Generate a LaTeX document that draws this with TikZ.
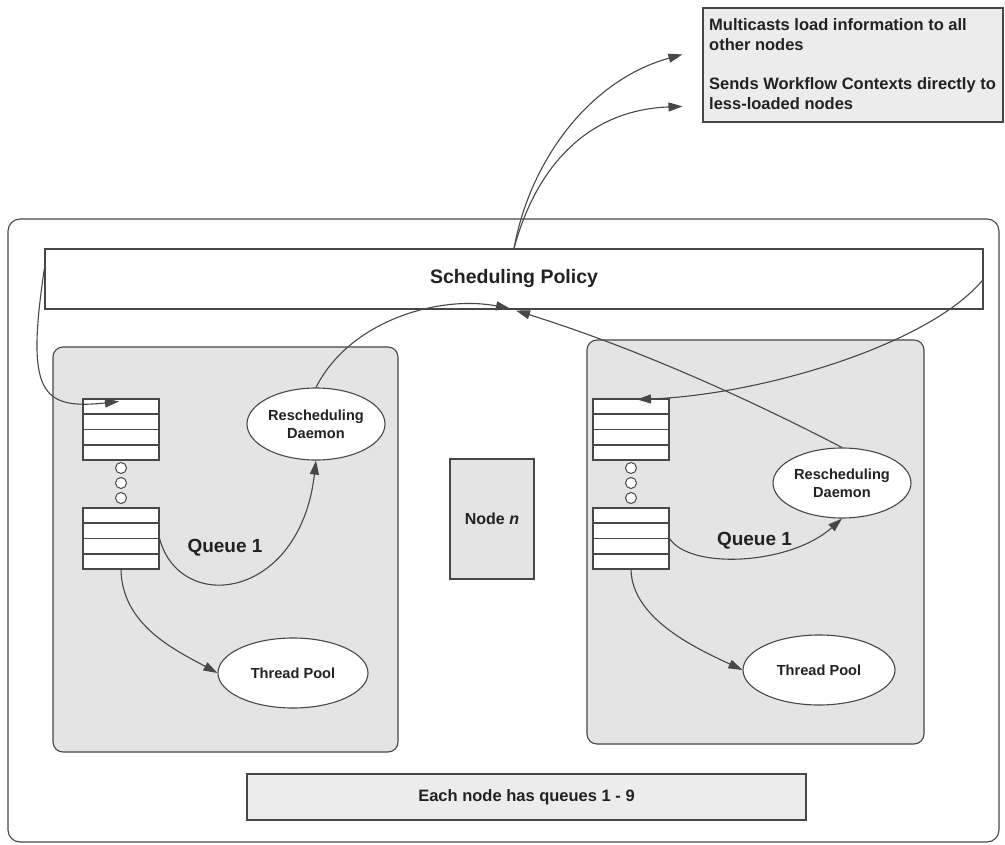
\documentclass[tikz,border=0pt]{standalone}
\usepackage{fontspec}
\setmainfont{Liberation Sans}
\usetikzlibrary{arrows.meta,calc,shapes.geometric}

\definecolor{ink}{HTML}{474747}
\definecolor{txt}{HTML}{222222}
\definecolor{panel}{HTML}{E4E4E4}
\definecolor{note}{HTML}{ECECEC}

\tikzset{
  box/.style={draw=ink, line width=1.1pt, inner sep=0pt},
  outerbox/.style={box, rounded corners=12pt, fill=white},
  nodepanel/.style={box, rounded corners=10pt, fill=panel},
  notebox/.style={box, fill=note},
  policybar/.style={box, fill=white, text=txt,
    font=\bfseries\fontsize{19.5}{22}\selectfont},
  queuebox/.style={box, fill=white, minimum width=76pt, minimum height=61pt},
  qline/.style={draw=ink, line width=1.1pt},
  gapdot/.style={circle, draw=ink, line width=1pt, fill=white, minimum size=11pt, inner sep=0pt},
  proc/.style={ellipse, draw=ink, line width=1.1pt, fill=white, inner sep=0pt, text=txt,
    align=center, font=\bfseries\fontsize{14.6}{18}\selectfont},
  qlabel/.style={text=txt, inner sep=0pt, font=\bfseries\fontsize{19}{22}\selectfont},
  flow/.style={draw=ink, line width=1.1pt, -{Triangle[length=14pt,width=9pt]}},
}

\begin{document}
\begin{tikzpicture}[x=1pt,y=-1pt]
\useasboundingbox (0,0) rectangle (1005,845);

% load-balancing note
\node[notebox, minimum width=300pt, minimum height=114pt] (note) at (853,65) {};
\node[anchor=north west, inner sep=0pt, align=left, text=txt,
      font=\bfseries\fontsize{16.5}{20}\selectfont] (notetext) at (709,18)
  {Multicasts load information to all\\ other nodes\\[19pt]
   Sends Workflow Contexts directly to\\ less-loaded nodes};

% the system frame and its parts
\node[outerbox, minimum width=991pt, minimum height=623pt] (sys) at (503.5,530.5) {};
\node[policybar, minimum width=938pt, minimum height=60pt] (sp) at (514,279) {Scheduling Policy};
\node[nodepanel, minimum width=345pt, minimum height=405pt] (nodeL) at (225.5,549.5) {};
\node[nodepanel, minimum width=337pt, minimum height=404pt] (nodeR) at (755.5,542) {};
\node[box, fill=panel, minimum width=84pt, minimum height=120pt, text=txt,
      font=\bfseries\fontsize{16}{19}\selectfont] (noden) at (492,519) {Node \textit{n}};
\node[notebox, minimum width=559pt, minimum height=46pt, text=txt,
      font=\bfseries\fontsize{16.5}{20}\selectfont] (info) at (526.5,797) {Each node has queues 1 - 9};

% queues of the left node
\node[queuebox] (lq1) at (121,429.5) {};
\node[queuebox] (lq9) at (121,538.5) {};
\node[gapdot] (ld1) at (121,468) {};
\node[gapdot] (ld2) at (121,483) {};
\node[gapdot] (ld3) at (121,498) {};
% queues of the right node
\node[queuebox] (rq1) at (631,429.5) {};
\node[queuebox] (rq9) at (631,538.5) {};
\node[gapdot] (rd1) at (631,468) {};
\node[gapdot] (rd2) at (631,483) {};
\node[gapdot] (rd3) at (631,498) {};

\foreach \q in {lq1,lq9,rq1,rq9}
  \foreach \f in {0.25,0.5,0.75}
    \draw[qline] ($(\q.north west)!\f!(\q.south west)$) -- ($(\q.north east)!\f!(\q.south east)$);

% daemons and thread pools
\node[proc, minimum width=138pt, minimum height=72pt] (dL) at (316,424) {Rescheduling\\Daemon};
\node[proc, minimum width=138pt, minimum height=70pt] (dR) at (842,483) {Rescheduling\\Daemon};
\node[proc, minimum width=150pt, minimum height=70pt] (tL) at (293,673) {Thread Pool};
\node[proc, minimum width=152pt, minimum height=70pt] (tR) at (819,670) {Thread Pool};

\node[qlabel] (qL) at (225,548) {Queue 1};
\node[qlabel] (qR) at (754.5,541) {Queue 1};

% outgoing messages of the policy
\coordinate (mcast) at ($(note.north west)+(-20,47)$);
\coordinate (send) at ($(note.north west)+(-20,99)$);
\draw[flow] (sp.north) .. controls (530,160) and (590,80) .. (mcast);
\draw[flow] (sp.north) .. controls (535,170) and (585,110) .. (send);

% policy feeds the queues
\draw[flow] ($(sp.west)+(0,-11)$) .. controls (26,392) and (40,410) .. ($(lq1.north)+(-2,3)$);
\draw[flow] (sp.east) .. controls (930,345) and (760,395) .. ($(rq1.north)+(6,1)$);

% daemons report back to the policy
\draw[flow] (dL.north) .. controls (350,320) and (440,295) .. ($(sp.south)+(-4,-1)$);
\draw[flow] (dR.north) .. controls (737,393) and (629,346) .. ($(sp.south)+(2,1)$);

% queue 1 to daemon and thread pool
\draw[flow] (lq9.east) .. controls (180,615) and (300,600) .. (dL.south);
\draw[flow] (lq9.south) .. controls (122,625) and (175,650) .. (tL.west);
\draw[flow] (rq9.east) .. controls (690,570) and (790,565) .. (dR.south);
\draw[flow] (rq9.south) .. controls (632,620) and (700,650) .. (tR.west);
\end{tikzpicture}
\end{document}
